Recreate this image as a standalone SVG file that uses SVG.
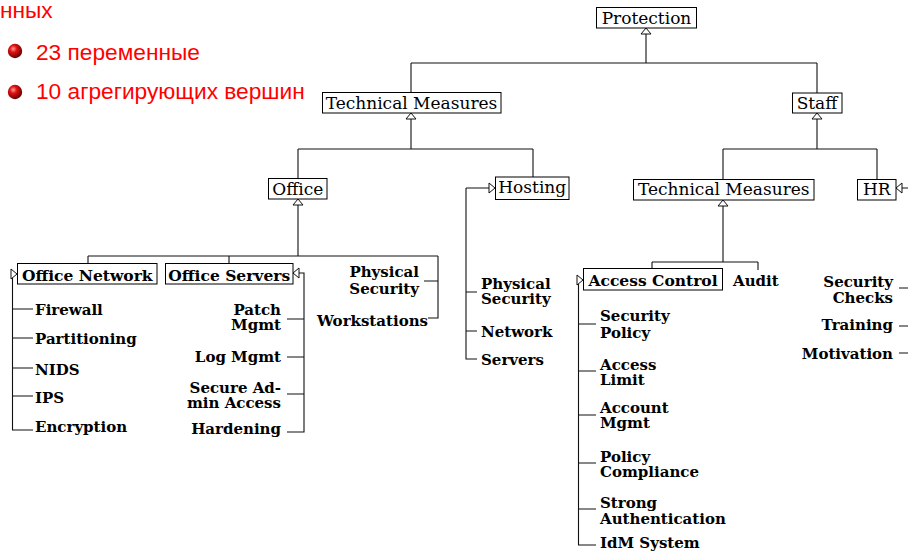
<svg xmlns="http://www.w3.org/2000/svg" width="908" height="555" viewBox="0 0 908 555">
<defs>
<radialGradient id="ball" cx="0.38" cy="0.35" r="0.7">
<stop offset="0" stop-color="#ff9a9a"/>
<stop offset="0.35" stop-color="#e01010"/>
<stop offset="1" stop-color="#5a0000"/>
</radialGradient>
</defs>
<style>
.red{font-family:"Liberation Sans",Arial,sans-serif;font-size:22.7px;fill:#ff0000}
.box{fill:#fff;stroke:#000;stroke-width:1}
.lbl{font-family:"DejaVu Serif",serif;font-size:17px;fill:#000;text-anchor:middle}
.lblb{font-family:"DejaVu Serif",serif;font-size:15.5px;font-weight:bold;fill:#000;text-anchor:middle}
.leaf{font-family:"DejaVu Serif",serif;font-size:15px;font-weight:bold;fill:#000}
.end{text-anchor:end}
.ln{fill:none;stroke:#111;stroke-width:1.1}
.ar{fill:#fff;stroke:#111;stroke-width:1}
</style>
<rect width="908" height="555" fill="#fff"/>
<g id="header">
<text class="red" x="0" y="18">нных</text>
<circle cx="15" cy="51" r="7.2" fill="url(#ball)"/>
<text class="red" x="36" y="60">23 переменные</text>
<circle cx="15" cy="92" r="7.2" fill="url(#ball)"/>
<text class="red" x="36" y="99">10 агрегирующих вершин</text>
</g>
<g id="connectors">
<path class="ln" d="M646,34 V63 M411,63 H817 M411,63 V92 M817,63 V93"/>
<path class="ln" d="M411,119 V149 M298,149 H533 M298,149 V178 M533,149 V177"/>
<path class="ln" d="M817,119 V149 M723,149 H877 M723,149 V179 M877,149 V179"/>
<path class="ln" d="M298,205 V256 M88,256 H438 M88,256 V263 M229,256 V263 M438,256 V318 H428 M424,281 H438"/>
<path class="ln" d="M466,188 H489 M466,188 V359 H477 M466,292 H477 M466,331 H477"/>
<path class="ln" d="M723,206 V262 M652,262 H758 M652,262 V268 M758,262 V270"/>
<path class="ln" d="M902,188 H908 M899,288 H908 M899,326 H908 M899,353 H908"/>
<path class="ln" d="M12.5,278 V430 H33 M12.5,309 H33 M12.5,338 H33 M12.5,368 H33 M12.5,396 H33"/>
<path class="ln" d="M299,273 H304 V432 H287 M287,319 H304 M287,357 H304 M287,394 H304"/>
<path class="ln" d="M578.5,284 V545 H596 M578.5,324 H596 M578.5,371 H596 M578.5,415 H596 M578.5,463 H596 M578.5,509 H596"/>
<polygon class="ar" points="646,28 641,34 651,34"/>
<polygon class="ar" points="411,113 406,119 416,119"/>
<polygon class="ar" points="817,113 812,119 822,119"/>
<polygon class="ar" points="298,199 293,205 303,205"/>
<polygon class="ar" points="723,200 718,206 728,206"/>
<polygon class="ar" points="495,188 489,183 489,193"/>
<polygon class="ar" points="896,188 902,183 902,193"/>
<polygon class="ar" points="17,274 11,269 11,279"/>
<polygon class="ar" points="293,273 299,268 299,278"/>
<polygon class="ar" points="583,280 577,275 577,285"/>
</g>
<g id="protection"><rect class="box" x="596.5" y="7.5" width="100" height="20.5"/><text class="lbl" x="646.5" y="24">Protection</text></g>
<g id="tech-measures-1"><rect class="box" x="322.5" y="92.5" width="178.5" height="20.5"/><text class="lbl" x="411.5" y="109">Technical Measures</text></g>
<g id="staff"><rect class="box" x="792.5" y="93" width="49.5" height="20"/><text class="lbl" x="817" y="109">Staff</text></g>
<g id="office"><rect class="box" x="268.5" y="178.5" width="58.5" height="20.5"/><text class="lbl" x="297.75" y="195">Office</text></g>
<g id="hosting"><rect class="box" x="495.5" y="177" width="73.5" height="22.5"/><text class="lbl" x="532.25" y="193">Hosting</text></g>
<g id="tech-measures-2"><rect class="box" x="633.5" y="179.5" width="180.5" height="20.5"/><text class="lbl" x="723.75" y="195">Technical Measures</text></g>
<g id="hr"><rect class="box" x="857.5" y="179.5" width="38.5" height="20.5"/><text class="lbl" x="876.75" y="195">HR</text></g>
<g id="office-network"><rect class="box" x="17.5" y="263.5" width="139.5" height="20.5"/><text class="lblb" x="87.25" y="280.5">Office Network</text></g>
<g id="office-servers"><rect class="box" x="165.5" y="263.5" width="127.5" height="20.5"/><text class="lblb" x="229.25" y="280.5">Office Servers</text></g>
<g id="access-control"><rect class="box" x="583.5" y="268.5" width="139" height="21.5"/><text class="lblb" x="653" y="286">Access Control</text></g>
<g id="firewall"><text class="leaf" x="35" y="315">Firewall</text></g>
<g id="partitioning"><text class="leaf" x="35" y="343.5">Partitioning</text></g>
<g id="nids"><text class="leaf" x="35" y="375">NIDS</text></g>
<g id="ips"><text class="leaf" x="35" y="402.5">IPS</text></g>
<g id="encryption"><text class="leaf" x="35" y="431.5">Encryption</text></g>
<g id="patch-mgmt"><text class="leaf end" x="281" y="315"><tspan x="281">Patch</tspan><tspan x="281" y="330">Mgmt</tspan></text></g>
<g id="log-mgmt"><text class="leaf end" x="281" y="362">Log Mgmt</text></g>
<g id="secure-admin"><text class="leaf end" x="281" y="392.5"><tspan x="281">Secure Ad-</tspan><tspan x="281" y="407.5">min Access</tspan></text></g>
<g id="hardening"><text class="leaf end" x="281" y="434">Hardening</text></g>
<g id="office-physical"><text class="leaf end" x="419" y="276.5"><tspan x="419">Physical</tspan><tspan x="419" y="293.5">Security</tspan></text></g>
<g id="workstations"><text class="leaf end" x="428" y="325.5">Workstations</text></g>
<g id="hosting-physical"><text class="leaf" x="481" y="288.5"><tspan x="481">Physical</tspan><tspan x="481" y="303.5">Security</tspan></text></g>
<g id="network"><text class="leaf" x="481" y="336.5">Network</text></g>
<g id="servers"><text class="leaf" x="481" y="364.5">Servers</text></g>
<g id="audit"><text class="leaf" x="733" y="286">Audit</text></g>
<g id="security-policy"><text class="leaf" x="600" y="321"><tspan x="600">Security</tspan><tspan x="600" y="337.5">Policy</tspan></text></g>
<g id="access-limit"><text class="leaf" x="600" y="370"><tspan x="600">Access</tspan><tspan x="600" y="385">Limit</tspan></text></g>
<g id="account-mgmt"><text class="leaf" x="600" y="413"><tspan x="600">Account</tspan><tspan x="600" y="428">Mgmt</tspan></text></g>
<g id="policy-compliance"><text class="leaf" x="600" y="461.5"><tspan x="600">Policy</tspan><tspan x="600" y="476.5">Compliance</tspan></text></g>
<g id="strong-auth"><text class="leaf" x="600" y="507.5"><tspan x="600">Strong</tspan><tspan x="600" y="523.5">Authentication</tspan></text></g>
<g id="idm-system"><text class="leaf" x="600" y="547.5">IdM System</text></g>
<g id="security-checks"><text class="leaf end" x="893" y="286.5"><tspan x="893">Security</tspan><tspan x="893" y="302.5">Checks</tspan></text></g>
<g id="training"><text class="leaf end" x="893" y="329.5">Training</text></g>
<g id="motivation"><text class="leaf end" x="893" y="358.5">Motivation</text></g>
</svg>
